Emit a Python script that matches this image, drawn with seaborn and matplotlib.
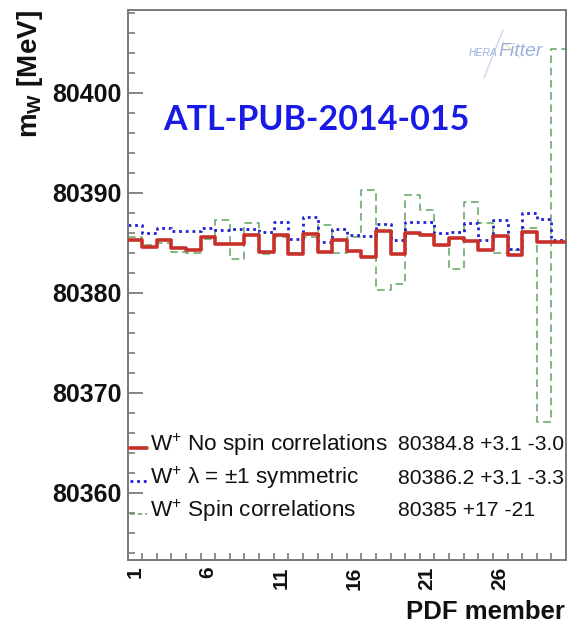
import numpy as np
import pandas as pd
import matplotlib
matplotlib.use("Agg")
import matplotlib.pyplot as plt
import seaborn as sns
from matplotlib.lines import Line2D

# W mass fitted for each PDF eigenvector member (MeV)
members = list(range(1, 31))
mw_no_spin = [80385.3, 80384.6, 80385.3, 80384.5, 80384.3, 80385.6, 80384.9, 80384.9,
              80385.8, 80384.1, 80385.8, 80383.9, 80385.9, 80384.1, 80385.3, 80384.2,
              80383.6, 80386.2, 80383.9, 80386.0, 80385.8, 80384.8, 80385.5, 80385.2,
              80384.3, 80385.7, 80383.8, 80386.1, 80385.1, 80385.1]
mw_symmetric = [80386.8, 80386.0, 80386.5, 80386.2, 80386.2, 80386.5, 80386.3, 80386.4,
                80386.4, 80386.1, 80387.1, 80385.4, 80387.6, 80385.1, 80386.4, 80385.8,
                80385.7, 80386.9, 80385.3, 80387.1, 80387.1, 80386.0, 80386.1, 80387.0,
                80385.3, 80387.3, 80384.4, 80388.0, 80387.4, 80385.3]
mw_spin = [80385.6, 80384.8, 80385.0, 80384.1, 80384.0, 80385.4, 80387.3, 80383.4,
           80387.0, 80383.9, 80385.6, 80384.0, 80385.6, 80386.8, 80384.0, 80385.6,
           80390.3, 80380.3, 80380.9, 80389.8, 80388.3, 80384.8, 80382.4, 80389.1,
           80387.0, 80384.0, 80384.3, 80386.5, 80367.1, 80404.4]

tick_members = [1, 6, 11, 16, 21, 26]
y_ticks = [80360, 80370, 80380, 80390, 80400]

series_labels = ["W$^{+}$ No spin correlations",
                 "W$^{+}$ \u03bb = \u00b11 symmetric",
                 "W$^{+}$ Spin correlations"]
series_results = ["80384.8 +3.1 -3.0", "80386.2 +3.1 -3.3", "80385 +17 -21"]
note_text = "ATL-PUB-2014-015"

sns.set_style("ticks")
plt.rcParams["font.family"] = ["Liberation Sans", "DejaVu Sans"]
plt.rcParams["mathtext.fontset"] = "custom"
plt.rcParams["mathtext.rm"] = "Liberation Sans"
plt.rcParams["mathtext.it"] = "Liberation Sans:italic"
plt.rcParams["mathtext.bf"] = "Liberation Sans:bold"

W, H = 567, 626
fig = plt.figure(figsize=(W / 100, H / 100), dpi=100)
fig.patch.set_facecolor("white")
ax = fig.add_axes([127.5 / W, 1 - 559.5 / H, 438.5 / W, 549.5 / H])
ax.set_facecolor("white")

# histogram-style steps: member i occupies the bin [i-1, i]
edges = np.arange(0, len(members) + 1)
styles = [
    (mw_spin, "#5fa35f", (0, (5, 3)), 1.1, 1),
    (mw_symmetric, "#1f1fd6", (0, (1, 1.4)), 2.0, 2),
    (mw_no_spin, "#c8302a", "-", 2.6, 3),
]
for vals, col, ls, lw, z in styles:
    df = pd.DataFrame({"edge": edges, "mw": list(vals) + [vals[-1]]})
    sns.lineplot(data=df, x="edge", y="mw", ax=ax, color=col, linestyle=ls,
                 linewidth=lw, drawstyle="steps-post", estimator=None,
                 sort=False, zorder=z)

ax.set_xlim(0, len(members))
ax.set_ylim(80353.3, 80408.3)
ax.set_xlabel("")
ax.set_ylabel("")

# frame
for sp in ax.spines.values():
    sp.set_color("#7a7a7a")
    sp.set_linewidth(1.4)

# y axis ticks
ax.set_yticks(y_ticks)
ax.set_yticks(np.arange(80354, 80409, 2), minor=True)
ax.set_yticklabels([str(v) for v in y_ticks], fontsize=18, fontweight="bold")
ax.tick_params(axis="y", which="major", direction="in", length=11, width=1.3,
               color="#7a7a7a", pad=4, labelcolor="#111111")
ax.tick_params(axis="y", which="minor", direction="in", length=5, width=1.2,
               color="#7a7a7a")

# x axis: ticks on bin edges, labels on bin centres
ax.set_xticks([m - 0.5 for m in tick_members])
ax.set_xticklabels([str(m) for m in tick_members], rotation=90, fontsize=15,
                   fontweight="bold", va="top")
ax.set_xticks(edges[1:-1], minor=True)
ax.tick_params(axis="x", which="major", length=0, pad=5, labelcolor="#111111")
ax.tick_params(axis="x", which="minor", direction="in", length=5, width=1.2,
               color="#7a7a7a")

# axis titles
fig.text(30 / W, 1 - 10 / H, r"m$_{\mathbf{W}}$ [MeV]", rotation=90, ha="center",
         va="top", fontsize=20, fontweight="bold", color="#111111")
fig.text(565 / W, 1 - 612 / H, "PDF member", ha="right", va="center",
         fontsize=18.5, fontweight="bold", color="#111111")

# publication reference
fig.text(163 / W, 1 - 120 / H, note_text, ha="left", va="center",
         fontsize=24.5, fontweight="bold", color="#1a1ae6", family="Lato")

# HERAFitter mark
fig.text(469 / W, 1 - 53 / H, "HERA", ha="left", va="center", fontsize=7.5,
         style="italic", color="#8aa4d6", alpha=0.85)
fig.text(498 / W, 1 - 52 / H, "Fitter", ha="left", va="center", fontsize=14,
         style="italic", color="#8aa4d6", alpha=0.85)
fig.add_artist(Line2D([503 / W, 484 / W], [1 - 30 / H, 1 - 78 / H],
                      color="#9fb4e0", lw=0.9, alpha=0.6))
fig.add_artist(Line2D([503 / W, 520 / W], [1 - 42 / H, 1 - 58 / H],
                      color="#e8c27a", lw=0.8, alpha=0.6))

# legend rows drawn by hand
row_y = [445, 478, 511]
handle_styles = [("#c8302a", "-", 2.6), ("#1f1fd6", (0, (1, 1.4)), 2.0),
                 ("#5fa35f", (0, (3, 2)), 1.1)]
for y, lab, res, (col, ls, lw) in zip(row_y, series_labels, series_results,
                                      handle_styles):
    fig.add_artist(Line2D([130 / W, 147 / W], [1 - (y + 3) / H] * 2, color=col,
                          linestyle=ls, linewidth=lw))
    fig.text(150 / W, 1 - y / H, lab, ha="left", va="center", fontsize=16.2,
             color="#111111")
    fig.text(398 / W, 1 - y / H, res, ha="left", va="center", fontsize=15.2,
             color="#111111")

fig.savefig("out.png", dpi=100, facecolor="white")
